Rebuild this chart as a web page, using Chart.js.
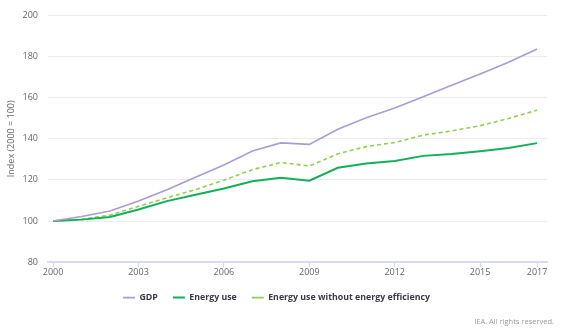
<!DOCTYPE html>
<html>
<head>
<meta charset="utf-8">
<script src="https://cdn.jsdelivr.net/npm/chart.js@4.4.0/dist/chart.umd.min.js"></script>
<style>
  html, body { margin: 0; padding: 0; background: #fff; }
  #wrap { width: 565px; height: 334px; position: relative; }
</style>
</head>
<body>
<div id="wrap"><canvas id="myChart" width="565" height="334"></canvas></div>
<script>
var years = [2000, 2001, 2002, 2003, 2004, 2005, 2006, 2007, 2008,
             2009, 2010, 2011, 2012, 2013, 2014, 2015, 2016, 2017];
var gdp = [100, 102.2, 104.9, 109.7, 115.2, 121.3, 127.3, 134.1, 138,
           137.3, 144.6, 150.2, 155, 160.4, 166, 171.5, 177.2, 183.7];
var energyUse = [100, 100.7, 102, 105.6, 109.7, 112.8, 115.8, 119.4, 121,
                 119.6, 125.9, 128, 129.2, 131.7, 132.6, 133.9, 135.5, 137.9];
var energyNoEff = [100, 100.9, 102.9, 107.2, 111.3, 115.3, 119.9, 125, 128.5,
                   126.8, 132.7, 136.2, 138.2, 141.8, 143.8, 146.4, 149.9, 153.9];
var xTicks = [2000, 2003, 2006, 2009, 2012, 2015, 2017];
var yTicks = [80, 100, 120, 140, 160, 180, 200];

function toPoints(values) {
    return values.map(function (v, i) { return { x: years[i], y: v }; });
}

var footer = {
    id: 'footer',
    afterDraw: function (chart) {
        var ctx = chart.ctx;
        ctx.save();
        ctx.font = '7.5px "Open Sans", sans-serif';
        ctx.fillStyle = '#9a9a9a';
        ctx.textAlign = 'right';
        ctx.textBaseline = 'middle';
        ctx.fillText('IEA. All rights reserved.', 554, 322);
        ctx.restore();
    }
};

var ctx = document.getElementById('myChart').getContext('2d');
var myChart = new Chart(ctx, {
    type: 'line',
    data: {
        datasets: [
            {
                label: 'GDP',
                data: toPoints(gdp),
                borderColor: '#ab9cd2',
                backgroundColor: '#ab9cd2',
                borderWidth: 1.6
            },
            {
                label: 'Energy use',
                data: toPoints(energyUse),
                borderColor: '#12b057',
                backgroundColor: '#12b057',
                borderWidth: 2
            },
            {
                label: 'Energy use without energy efficiency',
                data: toPoints(energyNoEff),
                borderColor: '#8fd04e',
                backgroundColor: '#8fd04e',
                borderWidth: 1.6,
                borderDash: [4, 3]
            }
        ]
    },
    options: {
        responsive: false,
        animation: false,
        devicePixelRatio: 1,
        layout: { padding: { left: 6, right: 18, top: 9, bottom: 22 } },
        elements: {
            point: { radius: 0 },
            line: { tension: 0 }
        },
        plugins: {
            tooltip: { enabled: false },
            legend: {
                position: 'bottom',
                labels: {
                    usePointStyle: true,
                    pointStyle: 'line',
                    pointStyleWidth: 12,
                    boxHeight: 8,
                    padding: 15,
                    color: '#3a3a48',
                    font: { family: 'Open Sans', size: 8.8, weight: 'bold' }
                }
            }
        },
        scales: {
            x: {
                type: 'linear',
                min: 1999.82,
                max: 2017.35,
                afterBuildTicks: function (axis) {
                    axis.ticks = xTicks.map(function (v) { return { value: v }; });
                },
                afterFit: function (axis) { axis.height = 16; },
                grid: {
                    drawOnChartArea: false,
                    drawTicks: true,
                    tickLength: 5,
                    color: '#d5dcef'
                },
                border: { color: '#d5dcef', width: 2 },
                ticks: {
                    padding: 0,
                    maxRotation: 0,
                    color: '#666',
                    font: { family: 'Open Sans', size: 9 },
                    callback: function (v) { return String(v); }
                }
            },
            y: {
                min: 80,
                max: 200,
                afterBuildTicks: function (axis) {
                    axis.ticks = yTicks.map(function (v) { return { value: v }; });
                },
                afterFit: function (axis) { axis.width = 42; },
                grid: {
                    color: '#ececec',
                    lineWidth: 1,
                    drawTicks: false
                },
                border: { display: false },
                ticks: {
                    padding: 10,
                    color: '#666',
                    font: { family: 'Open Sans', size: 9 }
                },
                title: {
                    display: true,
                    text: 'Index (2000 = 100)',
                    color: '#666',
                    padding: 0,
                    font: { family: 'Open Sans', size: 9 }
                }
            }
        }
    },
    plugins: [footer]
});
</script>
</body>
</html>
